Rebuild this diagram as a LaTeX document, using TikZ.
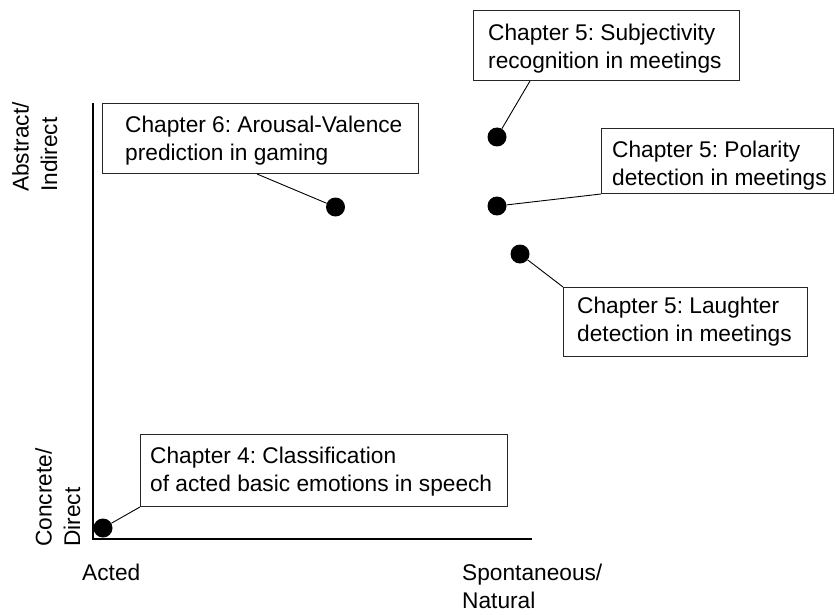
\documentclass[tikz,border=0pt]{standalone}
\usepackage{fontspec}
\setmainfont{Liberation Sans}
% fixed-height strut so the first baseline sits a known distance below a node's top
\newcommand\tstrut{\rule{0pt}{18pt}}
\frenchspacing
\begin{document}
\begin{tikzpicture}[x=1pt,y=-1pt,
  lbl/.style={inner sep=0pt, align=left, font=\fontsize{22.7}{28.5}\selectfont, anchor=north west},
  box/.style={draw=black!85, line width=1pt, inner sep=0pt, anchor=north west},
  dot/.style={circle, fill=black, inner sep=0pt, minimum size=19pt},
  lead/.style={line width=0.9pt},
  axis/.style={line width=1.3pt}]
\useasboundingbox (0,0) rectangle (835,615);

% axes
\coordinate (ytop) at (93,103);
\coordinate (O) at (93,539);
\coordinate (xend) at (532,539);
\draw[axis] (ytop) -- (O) -- (xend);

% axis labels
\node[lbl, rotate=90] (yhi) at (10.3,192) {\tstrut Abstract/\\Indirect};
\node[lbl, rotate=90] (ylo) at (33.3,547) {\tstrut Concrete/\\Direct};
\node[lbl, anchor=base west] (xlo) at (82,580) {Acted};
\node[lbl] (xhi) at (462,562) {\tstrut Spontaneous/\\Natural};

% chapter boxes
\node[box, minimum width=316pt, minimum height=70pt] (ch6) at (102,103) {};
\node[box, minimum width=266pt, minimum height=70pt] (subj) at (473,10) {};
\node[box, minimum width=232pt, minimum height=65pt] (pol) at (601,128) {};
\node[box, minimum width=244pt, minimum height=69pt] (laugh) at (563,287) {};
\node[box, minimum width=367pt, minimum height=72pt] (ch4) at (140,434) {};

\node[lbl] (t6) at ([shift={(23,11)}]ch6.north west) {\tstrut Chapter 6: Arousal-Valence\\prediction in gaming};
\node[lbl] (tsubj) at ([shift={(15,12)}]subj.north west) {\tstrut Chapter 5: Subjectivity\\recognition in meetings};
\node[lbl] (tpol) at ([shift={(11,11)}]pol.north west) {\tstrut Chapter 5: Polarity\\detection in meetings};
\node[lbl] (tlaugh) at ([shift={(14,8)}]laugh.north west) {\tstrut Chapter 5: Laughter\\detection in meetings};
\node[lbl] (t4) at ([shift={(10,11)}]ch4.north west) {\tstrut Chapter 4: Classification\\of acted basic emotions in speech};

% data points
\node[dot] (d4) at (103,528) {};
\node[dot] (d6) at (335.5,207) {};
\node[dot] (d5s) at (497,137) {};
\node[dot] (d5p) at (497,206) {};
\node[dot] (d5l) at (520,254) {};

% leader lines
\draw[lead] ([xshift=155pt]ch6.south west) -- (d6);
\draw[lead] ([xshift=57pt]subj.south west) -- (d5s);
\draw[lead] (pol.south west) -- (d5p);
\draw[lead] (laugh.north west) -- (d5l);
\draw[lead] (ch4.south west) -- (d4);
\end{tikzpicture}
\end{document}
